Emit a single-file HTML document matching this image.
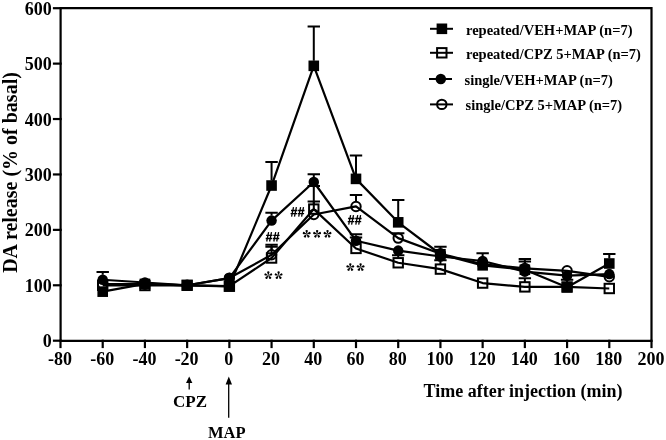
<!DOCTYPE html><html><head><meta charset="utf-8"><style>html,body{margin:0;padding:0;background:#fff;}svg{display:block;will-change:transform;}text{font-family:"Liberation Serif",serif;}</style></head><body>
<svg width="666" height="440" viewBox="0 0 666 440">
<g stroke="#000" stroke-width="2.2" fill="none" stroke-linecap="square">
<path d="M60.6 8.1 H651.5 V340.8 H60.6 Z"/>
<path d="M54 340.70 H60.6"/>
<path d="M54 285.28 H60.6"/>
<path d="M54 229.87 H60.6"/>
<path d="M54 174.45 H60.6"/>
<path d="M54 119.03 H60.6"/>
<path d="M54 63.62 H60.6"/>
<path d="M54 8.20 H60.6"/>
<path d="M60.50 340.8 V347"/>
<path d="M102.71 340.8 V347"/>
<path d="M144.93 340.8 V347"/>
<path d="M187.14 340.8 V347"/>
<path d="M229.36 340.8 V347"/>
<path d="M271.57 340.8 V347"/>
<path d="M313.79 340.8 V347"/>
<path d="M356.00 340.8 V347"/>
<path d="M398.21 340.8 V347"/>
<path d="M440.43 340.8 V347"/>
<path d="M482.64 340.8 V347"/>
<path d="M524.86 340.8 V347"/>
<path d="M567.07 340.8 V347"/>
<path d="M609.29 340.8 V347"/>
<path d="M651.50 340.8 V347"/>
</g>
<g font-size="18" font-weight="bold" fill="#000">
<text x="51.8" y="347.20" text-anchor="end">0</text>
<text x="51.8" y="291.78" text-anchor="end">100</text>
<text x="51.8" y="236.37" text-anchor="end">200</text>
<text x="51.8" y="180.95" text-anchor="end">300</text>
<text x="51.8" y="125.53" text-anchor="end">400</text>
<text x="51.8" y="70.12" text-anchor="end">500</text>
<text x="51.8" y="14.70" text-anchor="end">600</text>
<text x="60.00" y="365.2" text-anchor="middle">-80</text>
<text x="102.21" y="365.2" text-anchor="middle">-60</text>
<text x="144.43" y="365.2" text-anchor="middle">-40</text>
<text x="186.64" y="365.2" text-anchor="middle">-20</text>
<text x="228.86" y="365.2" text-anchor="middle">0</text>
<text x="271.07" y="365.2" text-anchor="middle">20</text>
<text x="313.29" y="365.2" text-anchor="middle">40</text>
<text x="355.50" y="365.2" text-anchor="middle">60</text>
<text x="397.71" y="365.2" text-anchor="middle">80</text>
<text x="439.93" y="365.2" text-anchor="middle">100</text>
<text x="482.14" y="365.2" text-anchor="middle">120</text>
<text x="524.36" y="365.2" text-anchor="middle">140</text>
<text x="566.57" y="365.2" text-anchor="middle">160</text>
<text x="608.79" y="365.2" text-anchor="middle">180</text>
<text x="651.00" y="365.2" text-anchor="middle">200</text>
</g>
<polyline points="102.71,291.66 144.93,283.90 187.14,285.28 229.36,286.39 271.57,185.53 313.79,65.83 356.00,178.88 398.21,222.33 440.43,254.25 482.64,265.33 524.86,269.77 567.07,287.28 609.29,263.50" fill="none" stroke="#000" stroke-width="2.2" stroke-linejoin="round"/>
<polyline points="102.71,285.28 144.93,285.50 187.14,285.28 229.36,286.17 271.57,258.02 313.79,209.09 356.00,248.43 398.21,262.78 440.43,269.10 482.64,283.07 524.86,286.89 567.07,286.95 609.29,288.50" fill="none" stroke="#000" stroke-width="2.2" stroke-linejoin="round"/>
<polyline points="102.71,279.74 144.93,282.51 187.14,285.28 229.36,278.08 271.57,220.61 313.79,181.99 356.00,240.73 398.21,250.59 440.43,256.47 482.64,261.01 524.86,271.65 567.07,275.70 609.29,274.09" fill="none" stroke="#000" stroke-width="2.2" stroke-linejoin="round"/>
<polyline points="102.71,284.18 144.93,284.18 187.14,285.28 229.36,278.08 271.57,254.80 313.79,214.52 356.00,206.43 398.21,238.12 440.43,253.70 482.64,264.23 524.86,268.38 567.07,270.82 609.29,276.80" fill="none" stroke="#000" stroke-width="2.2" stroke-linejoin="round"/>
<rect x="97.41" y="286.36" width="10.60" height="10.60" fill="#000"/>
<rect x="139.63" y="278.60" width="10.60" height="10.60" fill="#000"/>
<rect x="181.84" y="279.98" width="10.60" height="10.60" fill="#000"/>
<rect x="224.06" y="281.09" width="10.60" height="10.60" fill="#000"/>
<path d="M271.57 180.53 V161.93 M265.37 161.93 H277.77" stroke="#000" stroke-width="2" fill="none"/>
<rect x="266.27" y="180.23" width="10.60" height="10.60" fill="#000"/>
<path d="M313.79 60.83 V26.49 M307.59 26.49 H319.99" stroke="#000" stroke-width="2" fill="none"/>
<rect x="308.49" y="60.53" width="10.60" height="10.60" fill="#000"/>
<path d="M356.00 173.88 V155.61 M349.80 155.61 H362.20" stroke="#000" stroke-width="2" fill="none"/>
<rect x="350.70" y="173.58" width="10.60" height="10.60" fill="#000"/>
<path d="M398.21 217.33 V200.11 M392.01 200.11 H404.41" stroke="#000" stroke-width="2" fill="none"/>
<rect x="392.91" y="217.03" width="10.60" height="10.60" fill="#000"/>
<path d="M440.43 249.25 V246.82 M434.23 246.82 H446.63" stroke="#000" stroke-width="2" fill="none"/>
<rect x="435.13" y="248.95" width="10.60" height="10.60" fill="#000"/>
<rect x="477.34" y="260.03" width="10.60" height="10.60" fill="#000"/>
<path d="M524.86 264.77 V261.40 M518.66 261.40 H531.06" stroke="#000" stroke-width="2" fill="none"/>
<rect x="519.56" y="264.47" width="10.60" height="10.60" fill="#000"/>
<path d="M567.07 282.28 V279.69 M560.87 279.69 H573.27" stroke="#000" stroke-width="2" fill="none"/>
<rect x="561.77" y="281.98" width="10.60" height="10.60" fill="#000"/>
<path d="M609.29 258.50 V254.03 M603.09 254.03 H615.49" stroke="#000" stroke-width="2" fill="none"/>
<rect x="603.99" y="258.20" width="10.60" height="10.60" fill="#000"/>
<rect x="98.01" y="280.58" width="9.40" height="9.40" fill="none" stroke="#000" stroke-width="2"/>
<rect x="140.23" y="280.81" width="9.40" height="9.40" fill="none" stroke="#000" stroke-width="2"/>
<rect x="182.44" y="280.58" width="9.40" height="9.40" fill="none" stroke="#000" stroke-width="2"/>
<rect x="224.66" y="281.47" width="9.40" height="9.40" fill="none" stroke="#000" stroke-width="2"/>
<path d="M271.57 253.02 V244.83 M265.37 244.83 H277.77" stroke="#000" stroke-width="2" fill="none"/>
<rect x="266.87" y="253.32" width="9.40" height="9.40" fill="none" stroke="#000" stroke-width="2"/>
<path d="M313.79 204.09 V201.60 M307.59 201.60 H319.99" stroke="#000" stroke-width="2" fill="none"/>
<rect x="309.09" y="204.39" width="9.40" height="9.40" fill="none" stroke="#000" stroke-width="2"/>
<path d="M356.00 243.43 V237.46 M349.80 237.46 H362.20" stroke="#000" stroke-width="2" fill="none"/>
<rect x="351.30" y="243.73" width="9.40" height="9.40" fill="none" stroke="#000" stroke-width="2"/>
<path d="M398.21 257.78 V255.36 M392.01 255.36 H404.41" stroke="#000" stroke-width="2" fill="none"/>
<rect x="393.51" y="258.08" width="9.40" height="9.40" fill="none" stroke="#000" stroke-width="2"/>
<path d="M440.43 264.10 V260.35 M434.23 260.35 H446.63" stroke="#000" stroke-width="2" fill="none"/>
<rect x="435.73" y="264.40" width="9.40" height="9.40" fill="none" stroke="#000" stroke-width="2"/>
<rect x="477.94" y="278.37" width="9.40" height="9.40" fill="none" stroke="#000" stroke-width="2"/>
<path d="M524.86 281.89 V278.19 M518.66 278.19 H531.06" stroke="#000" stroke-width="2" fill="none"/>
<rect x="520.16" y="282.19" width="9.40" height="9.40" fill="none" stroke="#000" stroke-width="2"/>
<rect x="562.37" y="282.25" width="9.40" height="9.40" fill="none" stroke="#000" stroke-width="2"/>
<rect x="604.59" y="283.80" width="9.40" height="9.40" fill="none" stroke="#000" stroke-width="2"/>
<path d="M102.71 274.74 V272.09 M96.51 272.09 H108.91" stroke="#000" stroke-width="2" fill="none"/>
<circle cx="102.71" cy="279.74" r="5.25" fill="#000"/>
<circle cx="144.93" cy="282.51" r="5.25" fill="#000"/>
<circle cx="187.14" cy="285.28" r="5.25" fill="#000"/>
<circle cx="229.36" cy="278.08" r="5.25" fill="#000"/>
<path d="M271.57 215.61 V212.69 M265.37 212.69 H277.77" stroke="#000" stroke-width="2" fill="none"/>
<circle cx="271.57" cy="220.61" r="5.25" fill="#000"/>
<path d="M313.79 176.99 V174.28 M307.59 174.28 H319.99" stroke="#000" stroke-width="2" fill="none"/>
<circle cx="313.79" cy="181.99" r="5.25" fill="#000"/>
<path d="M356.00 235.73 V234.30 M349.80 234.30 H362.20" stroke="#000" stroke-width="2" fill="none"/>
<circle cx="356.00" cy="240.73" r="5.25" fill="#000"/>
<circle cx="398.21" cy="250.59" r="5.25" fill="#000"/>
<circle cx="440.43" cy="256.47" r="5.25" fill="#000"/>
<path d="M482.64 256.01 V253.25 M476.44 253.25 H488.84" stroke="#000" stroke-width="2" fill="none"/>
<circle cx="482.64" cy="261.01" r="5.25" fill="#000"/>
<circle cx="524.86" cy="271.65" r="5.25" fill="#000"/>
<circle cx="567.07" cy="275.70" r="5.25" fill="#000"/>
<circle cx="609.29" cy="274.09" r="5.25" fill="#000"/>
<circle cx="102.71" cy="284.18" r="4.7" fill="none" stroke="#000" stroke-width="2"/>
<circle cx="144.93" cy="284.18" r="4.7" fill="none" stroke="#000" stroke-width="2"/>
<circle cx="187.14" cy="285.28" r="4.7" fill="none" stroke="#000" stroke-width="2"/>
<circle cx="229.36" cy="278.08" r="4.7" fill="none" stroke="#000" stroke-width="2"/>
<path d="M271.57 249.80 V246.82 M265.37 246.82 H277.77" stroke="#000" stroke-width="2" fill="none"/>
<circle cx="271.57" cy="254.80" r="4.7" fill="none" stroke="#000" stroke-width="2"/>
<path d="M313.79 209.52 V186.09 M307.59 186.09 H319.99" stroke="#000" stroke-width="2" fill="none"/>
<circle cx="313.79" cy="214.52" r="4.7" fill="none" stroke="#000" stroke-width="2"/>
<path d="M356.00 201.43 V194.90 M349.80 194.90 H362.20" stroke="#000" stroke-width="2" fill="none"/>
<circle cx="356.00" cy="206.43" r="4.7" fill="none" stroke="#000" stroke-width="2"/>
<path d="M398.21 233.12 V233.19 M392.01 233.19 H404.41" stroke="#000" stroke-width="2" fill="none"/>
<circle cx="398.21" cy="238.12" r="4.7" fill="none" stroke="#000" stroke-width="2"/>
<circle cx="440.43" cy="253.70" r="4.7" fill="none" stroke="#000" stroke-width="2"/>
<circle cx="482.64" cy="264.23" r="4.7" fill="none" stroke="#000" stroke-width="2"/>
<path d="M524.86 263.38 V259.02 M518.66 259.02 H531.06" stroke="#000" stroke-width="2" fill="none"/>
<circle cx="524.86" cy="268.38" r="4.7" fill="none" stroke="#000" stroke-width="2"/>
<circle cx="567.07" cy="270.82" r="4.7" fill="none" stroke="#000" stroke-width="2"/>
<circle cx="609.29" cy="276.80" r="4.7" fill="none" stroke="#000" stroke-width="2"/>
<path d="M266.70 241.50L268.60 232.10M269.60 241.50L271.50 232.10M266.10 235.40H272.50M265.70 238.50H272.10M273.80 241.50L275.70 232.10M276.70 241.50L278.60 232.10M273.20 235.40H279.60M272.80 238.50H279.20M291.60 216.60L293.50 207.20M294.50 216.60L296.40 207.20M291.00 210.50H297.40M290.60 213.60H297.00M298.70 216.60L300.60 207.20M301.60 216.60L303.50 207.20M298.10 210.50H304.50M297.70 213.60H304.10M348.70 224.60L350.60 215.20M351.60 224.60L353.50 215.20M348.10 218.50H354.50M347.70 221.60H354.10M355.80 224.60L357.70 215.20M358.70 224.60L360.60 215.20M355.20 218.50H361.60M354.80 221.60H361.20" stroke="#000" stroke-width="1.3" fill="none"/>
<path d="M268.30 275.40L267.28 272.86A1.1 1.1 0 1 1 269.32 272.86ZM268.30 275.40L270.40 273.64A1.1 1.1 0 1 1 271.03 275.59ZM268.30 275.40L270.62 276.85A1.1 1.1 0 1 1 268.97 278.05ZM268.30 275.40L267.63 278.05A1.1 1.1 0 1 1 265.98 276.85ZM268.30 275.40L265.57 275.59A1.1 1.1 0 1 1 266.20 273.64ZM278.60 275.40L277.58 272.86A1.1 1.1 0 1 1 279.62 272.86ZM278.60 275.40L280.70 273.64A1.1 1.1 0 1 1 281.33 275.59ZM278.60 275.40L280.92 276.85A1.1 1.1 0 1 1 279.27 278.05ZM278.60 275.40L277.93 278.05A1.1 1.1 0 1 1 276.28 276.85ZM278.60 275.40L275.87 275.59A1.1 1.1 0 1 1 276.50 273.64ZM306.70 234.00L305.68 231.46A1.1 1.1 0 1 1 307.72 231.46ZM306.70 234.00L308.80 232.24A1.1 1.1 0 1 1 309.43 234.19ZM306.70 234.00L309.02 235.45A1.1 1.1 0 1 1 307.37 236.65ZM306.70 234.00L306.03 236.65A1.1 1.1 0 1 1 304.38 235.45ZM306.70 234.00L303.97 234.19A1.1 1.1 0 1 1 304.60 232.24ZM317.10 234.00L316.08 231.46A1.1 1.1 0 1 1 318.12 231.46ZM317.10 234.00L319.20 232.24A1.1 1.1 0 1 1 319.83 234.19ZM317.10 234.00L319.42 235.45A1.1 1.1 0 1 1 317.77 236.65ZM317.10 234.00L316.43 236.65A1.1 1.1 0 1 1 314.78 235.45ZM317.10 234.00L314.37 234.19A1.1 1.1 0 1 1 315.00 232.24ZM327.50 234.00L326.48 231.46A1.1 1.1 0 1 1 328.52 231.46ZM327.50 234.00L329.60 232.24A1.1 1.1 0 1 1 330.23 234.19ZM327.50 234.00L329.82 235.45A1.1 1.1 0 1 1 328.17 236.65ZM327.50 234.00L326.83 236.65A1.1 1.1 0 1 1 325.18 235.45ZM327.50 234.00L324.77 234.19A1.1 1.1 0 1 1 325.40 232.24ZM350.30 267.30L349.28 264.76A1.1 1.1 0 1 1 351.32 264.76ZM350.30 267.30L352.40 265.54A1.1 1.1 0 1 1 353.03 267.49ZM350.30 267.30L352.62 268.75A1.1 1.1 0 1 1 350.97 269.95ZM350.30 267.30L349.63 269.95A1.1 1.1 0 1 1 347.98 268.75ZM350.30 267.30L347.57 267.49A1.1 1.1 0 1 1 348.20 265.54ZM360.60 267.30L359.58 264.76A1.1 1.1 0 1 1 361.62 264.76ZM360.60 267.30L362.70 265.54A1.1 1.1 0 1 1 363.33 267.49ZM360.60 267.30L362.92 268.75A1.1 1.1 0 1 1 361.27 269.95ZM360.60 267.30L359.93 269.95A1.1 1.1 0 1 1 358.28 268.75ZM360.60 267.30L357.87 267.49A1.1 1.1 0 1 1 358.50 265.54Z" fill="#000"/>
<text font-size="20" font-weight="bold" transform="translate(16.9,172.5) rotate(-90)" text-anchor="middle">DA release (% of basal)</text>
<text font-size="18" font-weight="bold" x="423.6" y="397">Time after injection (min)</text>
<g stroke="#000" stroke-width="1.3" fill="none"><path d="M189.2 382 V389.4"/><path d="M228.7 383 V417.7"/></g>
<g fill="#000"><path d="M189.2 376.4 L192.4 383.1 L186 383.1 Z"/><path d="M228.8 376.6 L232 384.6 L225.6 384.6 Z"/></g>
<text font-size="17" font-weight="bold" x="190" y="406.7" text-anchor="middle">CPZ</text>
<text font-size="16.5" font-weight="bold" x="226.7" y="437.6" text-anchor="middle">MAP</text>
<path d="M430 28.8 H453" stroke="#000" stroke-width="2"/>
<rect x="436.60" y="23.50" width="10.60" height="10.60" fill="#000"/>
<text font-size="14.5" font-weight="bold" x="466" y="34.7">repeated/VEH+MAP (n=7)</text>
<path d="M430 52.8 H453" stroke="#000" stroke-width="2"/>
<rect x="437.10" y="48.10" width="9.40" height="9.40" fill="none" stroke="#000" stroke-width="2"/>
<text font-size="14.5" font-weight="bold" x="466" y="59.0">repeated/CPZ 5+MAP (n=7)</text>
<path d="M429 79 H452" stroke="#000" stroke-width="2"/>
<circle cx="440.80" cy="79.00" r="5.25" fill="#000"/>
<text font-size="14.5" font-weight="bold" x="464.6" y="85.2">single/VEH+MAP (n=7)</text>
<path d="M430 104.4 H453" stroke="#000" stroke-width="2"/>
<circle cx="441.80" cy="104.40" r="4.7" fill="none" stroke="#000" stroke-width="2"/>
<text font-size="14.5" font-weight="bold" x="465.5" y="109.9">single/CPZ 5+MAP (n=7)</text>
</svg></body></html>
